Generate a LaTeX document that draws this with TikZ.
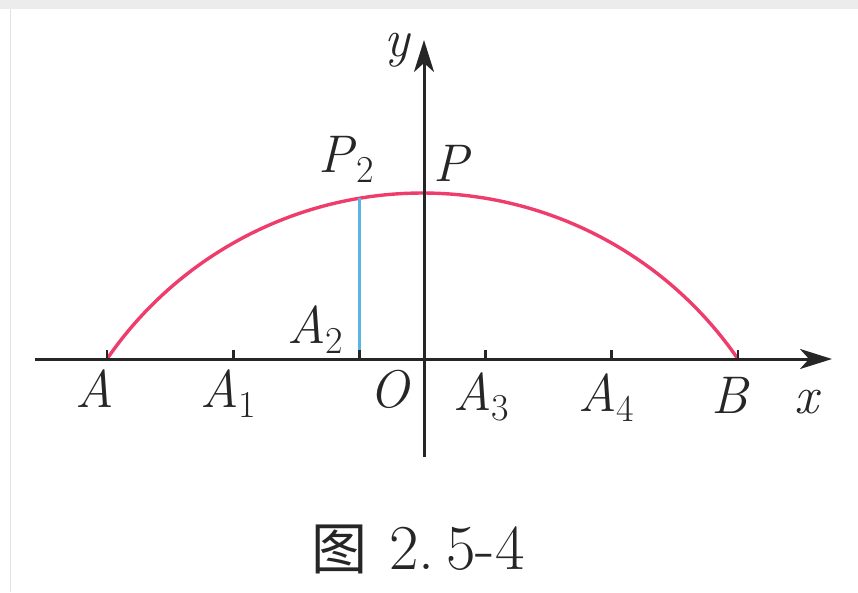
\documentclass[tikz,border=0pt]{standalone}
\usepackage{fontspec}
\newfontfamily\cjk{Noto Sans CJK SC}
\usetikzlibrary{arrows.meta}
\definecolor{arcred}{HTML}{EE3D6B}
\definecolor{segblue}{HTML}{5BB5E3}
\definecolor{axisblack}{HTML}{262626}
\definecolor{framegray}{HTML}{ECECEC}
\definecolor{edgegray}{HTML}{E2E2E2}
\newcommand{\Lab}[2]{\textit{#1}\raisebox{-10pt}{\fontsize{38}{38}\selectfont #2}}
\begin{document}
\begin{tikzpicture}[x=1pt,y=-1pt,
  lab/.style={inner sep=0pt, font=\fontsize{53}{53}\selectfont, text=axisblack},
  axisline/.style={line width=3pt, draw=axisblack, -{Stealth[length=32pt,width=20pt,inset=9pt]}},
  tickline/.style={line width=2.8pt, draw=axisblack},
  arcline/.style={line width=3.4pt, draw=arcred},
  segline/.style={line width=2.8pt, draw=segblue}]
\useasboundingbox (0,0) rectangle (858,593);
\fill[framegray] (0,0) rectangle (858,9);
\draw[line width=1pt, edgegray] (10.5,9) -- (10.5,592);
% axis ends
\coordinate (xs) at (35,359);
\coordinate (xe) at (832,359);
\coordinate (ys) at (424,457);
\coordinate (ye) at (424,40);
% points on the x axis
\coordinate (A)  at (107,359);
\coordinate (A1) at (233.2,359);
\coordinate (A2) at (359.4,359);
\coordinate (A3) at (485.6,359);
\coordinate (A4) at (611.8,359);
\coordinate (B)  at (738,359);
\coordinate (P2) at (359.4,198.3);
% arc
\draw[arcline] (A) arc[start angle=214.5, end angle=325.5, radius=382.8];
% segment
\draw[segline] (A2) -- (P2);
% axes
\draw[axisline] (xs) -- (xe);
\draw[axisline] (ys) -- (ye);
% ticks
\foreach \p in {A,A1,A2,A3,A4,B}{
  \draw[tickline] (\p) -- ++(0,-9);
}
% labels
\node[lab, anchor=base] (lA) at (95,407) {\textit{A}};
\node[lab, anchor=base west] (lA1) at (200,407) {\Lab{A}{1}};
\node[lab, anchor=base] (lO) at (390,407) {\textit{O}};
\node[lab, anchor=base west] (lA3) at (453,410) {\Lab{A}{3}};
\node[lab, anchor=base west] (lA4) at (578,411) {\Lab{A}{4}};
\node[lab, anchor=base] (lB) at (731,413) {\textit{B}};
\node[lab, anchor=base] (lx) at (808,413) {\textit{x}};
\node[lab, anchor=base] (ly) at (398,57) {\textit{y}};
\node[lab, anchor=base west] (lP2) at (318,173) {\Lab{P}{2}};
\node[lab, anchor=base] (lP) at (452,182) {\textit{P}};
\node[lab, anchor=base west] (lA2) at (287,343) {\Lab{A}{2}};
% caption
\node[anchor=base west, inner sep=0pt, text=axisblack] (cap) at (311,569)
  {{\cjk\fontsize{56}{56}\selectfont 图}\hspace{22pt}{\fontsize{64}{64}\selectfont 2.\hspace{12pt}5-4}};
\end{tikzpicture}
\end{document}
